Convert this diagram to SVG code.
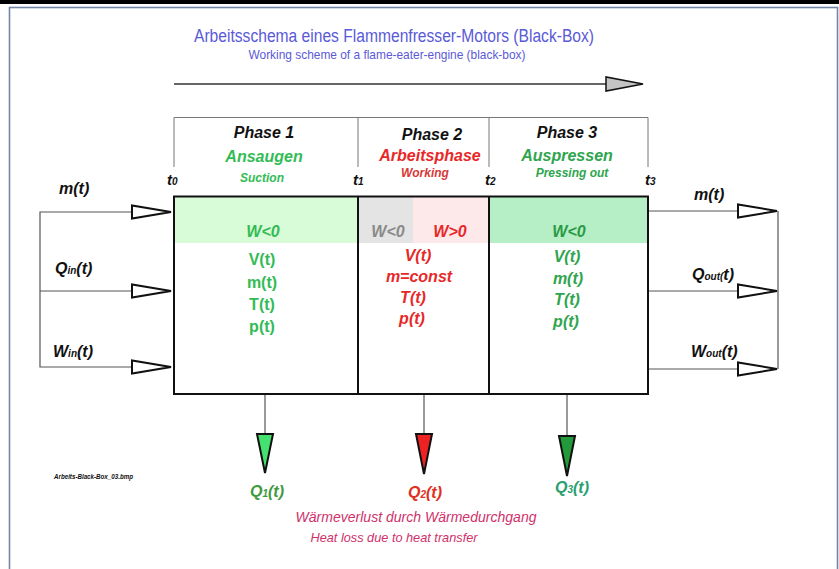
<svg xmlns="http://www.w3.org/2000/svg" width="839" height="569" viewBox="0 0 839 569">
<defs>
<style>
text{font-family:"Liberation Sans",Arial,sans-serif}
.bi{font-weight:bold;font-style:italic}
.b{font-weight:bold}
.c{text-anchor:middle}
.k{fill:#111}
.g1{fill:#33bb55}
.g3{fill:#2ea54e}
.r{fill:#e82828}
.thin{stroke:#777;stroke-width:1;fill:none}
.wire{stroke:#555;stroke-width:1.2;fill:none}
.open{fill:#fff;stroke:#111;stroke-width:2;stroke-linejoin:miter}
.drop{stroke:#111;stroke-width:2;stroke-linejoin:miter}
.lbl{font-size:16px}
.sm{font-size:12px}
.sub{font-size:10px}
</style>
</defs>

<!-- page frame -->
<rect x="0" y="0" width="839" height="569" fill="#fff"/>
<rect x="0" y="0" width="839" height="4" fill="#000"/>
<rect x="9.5" y="7.5" width="828" height="580" fill="#fff" stroke="#7385a8" stroke-width="1.6"/>

<!-- title -->
<g id="title">
<text x="394" y="42" class="c" font-size="18" fill="#5a5ad8" textLength="400" lengthAdjust="spacingAndGlyphs">Arbeitsschema eines Flammenfresser-Motors (Black-Box)</text>
<text x="387" y="59" class="c" font-size="13" fill="#5a5ad8" textLength="277" lengthAdjust="spacingAndGlyphs">Working scheme of a flame-eater-engine (black-box)</text>
</g>

<!-- connectors -->
<g id="connectors">
<!-- time axis -->
<line x1="174" y1="84" x2="606" y2="84" stroke="#333" stroke-width="1.5"/>
<polygon points="606,77 606,91 643,84" fill="#c4c4c4" stroke="#111" stroke-width="1.5"/>
<!-- header grid -->
<polyline class="thin" points="174,167 174,117.5 648,117.5 648,167"/>
<line class="thin" x1="358" y1="117.5" x2="358" y2="167"/>
<line class="thin" x1="489" y1="117.5" x2="489" y2="167"/>
<!-- inputs -->
<polyline class="wire" points="132,212 40,212 40,367 132,367"/>
<line class="wire" x1="40" y1="291" x2="132" y2="291"/>
<polygon class="open" points="132,205.5 132,218.5 171,212"/>
<polygon class="open" points="132,284.5 132,297.5 171,291"/>
<polygon class="open" points="132,360.5 132,373.5 171,367"/>
<!-- outputs -->
<line class="wire" x1="648" y1="211" x2="738" y2="211"/>
<line class="wire" x1="648" y1="291" x2="738" y2="291"/>
<line class="wire" x1="648" y1="369" x2="738" y2="369"/>
<line class="wire" x1="778" y1="211" x2="778" y2="369"/>
<polygon class="open" points="738,204.5 738,217.5 777,211"/>
<polygon class="open" points="738,284.5 738,297.5 777,291"/>
<polygon class="open" points="738,362.5 738,375.5 777,369"/>
<!-- heat loss drops -->
<line class="wire" x1="265" y1="394" x2="265" y2="434"/>
<line class="wire" x1="424" y1="394" x2="424" y2="434"/>
<line class="wire" x1="567" y1="394" x2="567" y2="436"/>
<polygon class="drop" points="257,434 273,434 265,473" fill="#44e070"/>
<polygon class="drop" points="416,434 432,434 424,474" fill="#ee2222"/>
<polygon class="drop" points="559,436 575,436 567,476" fill="#22993a"/>
</g>

<!-- phase 1 -->
<g id="phase1">
<rect x="175" y="197" width="182" height="46" fill="#d8fcd8"/>
<text x="264" y="138" class="bi c k lbl">Phase 1</text>
<text x="264" y="162" class="bi c g1 lbl">Ansaugen</text>
<text x="262" y="182" class="bi c g1 sm">Suction</text>
<text x="263" y="237" class="bi c g1 lbl">W&lt;0</text>
<text x="262" y="265" class="b c g1 lbl">V(t)</text>
<text x="262" y="288" class="b c g1 lbl">m(t)</text>
<text x="262" y="310" class="b c g1 lbl">T(t)</text>
<text x="262" y="332" class="b c g1 lbl">p(t)</text>
</g>

<!-- phase 2 -->
<g id="phase2">
<rect x="359" y="197" width="54" height="46" fill="#e4e4e4"/>
<rect x="413" y="197" width="75" height="46" fill="#fde8ea"/>
<text x="432" y="140" class="bi c k lbl">Phase 2</text>
<text x="430" y="161" class="bi c r lbl">Arbeitsphase</text>
<text x="425" y="177" class="bi c sm" fill="#d83838">Working</text>
<text x="388" y="237" class="bi c lbl" fill="#8a8a8a">W&lt;0</text>
<text x="450" y="237" class="bi c r lbl">W&gt;0</text>
<text x="418" y="261" class="bi c r lbl">V(t)</text>
<text x="419" y="282" class="bi c r lbl">m=const</text>
<text x="413" y="303" class="bi c r lbl">T(t)</text>
<text x="412" y="324" class="bi c r lbl">p(t)</text>
</g>

<!-- phase 3 -->
<g id="phase3">
<rect x="490" y="197" width="157" height="46" fill="#b6eec6"/>
<text x="567" y="138" class="bi c k lbl">Phase 3</text>
<text x="567" y="161" class="bi c g3 lbl">Auspressen</text>
<text x="572" y="177" class="bi c g3 sm">Pressing out</text>
<text x="569" y="237" class="bi c lbl" fill="#2a9a45">W&lt;0</text>
<text x="567" y="262" class="bi c g3 lbl">V(t)</text>
<text x="568" y="284" class="bi c g3 lbl">m(t)</text>
<text x="567" y="305" class="bi c g3 lbl">T(t)</text>
<text x="566" y="327" class="bi c g3 lbl">p(t)</text>
</g>

<!-- black box outline -->
<g id="blackbox">
<rect x="174" y="196.5" width="474" height="197.5" fill="none" stroke="#111" stroke-width="2"/>
<line x1="358" y1="196.5" x2="358" y2="394" stroke="#111" stroke-width="2"/>
<line x1="489" y1="196.5" x2="489" y2="394" stroke="#111" stroke-width="2"/>
</g>

<!-- time marks -->
<g id="times" class="k">
<text x="167" y="185" class="bi" font-size="15">t<tspan class="sub">0</tspan></text>
<text x="353" y="185" class="bi" font-size="15">t<tspan class="sub">1</tspan></text>
<text x="485" y="185" class="bi" font-size="15">t<tspan class="sub">2</tspan></text>
<text x="645" y="185" class="bi" font-size="15">t<tspan class="sub">3</tspan></text>
</g>

<!-- flow labels -->
<g id="inputs" class="k">
<text x="59" y="194" class="bi lbl">m(t)</text>
<text x="55" y="274" class="bi lbl">Q<tspan class="sub">in</tspan>(t)</text>
<text x="53" y="357" class="bi lbl">W<tspan class="sub">in</tspan>(t)</text>
</g>
<g id="outputs" class="k">
<text x="694" y="200" class="bi lbl">m(t)</text>
<text x="692" y="280" class="bi lbl">Q<tspan class="sub">out(</tspan>t)</text>
<text x="691" y="357" class="bi lbl">W<tspan class="sub">out</tspan>(t)</text>
</g>

<!-- heat losses -->
<g id="heatloss">
<text x="267" y="497" class="bi c lbl" fill="#3f9a40">Q<tspan class="sub">1</tspan>(t)</text>
<text x="425" y="498" class="bi c lbl" fill="#e03020">Q<tspan class="sub">2</tspan>(t)</text>
<text x="572" y="493" class="bi c lbl" fill="#2aa070">Q<tspan class="sub">3</tspan>(t)</text>
<text x="416" y="522" class="c" font-style="italic" font-size="15" fill="#d0306a" textLength="241" lengthAdjust="spacingAndGlyphs">Wärmeverlust durch Wärmedurchgang</text>
<text x="394" y="542" class="c" font-style="italic" font-size="13" fill="#d0306a" textLength="167" lengthAdjust="spacingAndGlyphs">Heat loss due to heat transfer</text>
</g>

<text x="54" y="479" class="bi k" font-size="7" textLength="79" lengthAdjust="spacingAndGlyphs">Arbeits-Black-Box_03.bmp</text>
</svg>
